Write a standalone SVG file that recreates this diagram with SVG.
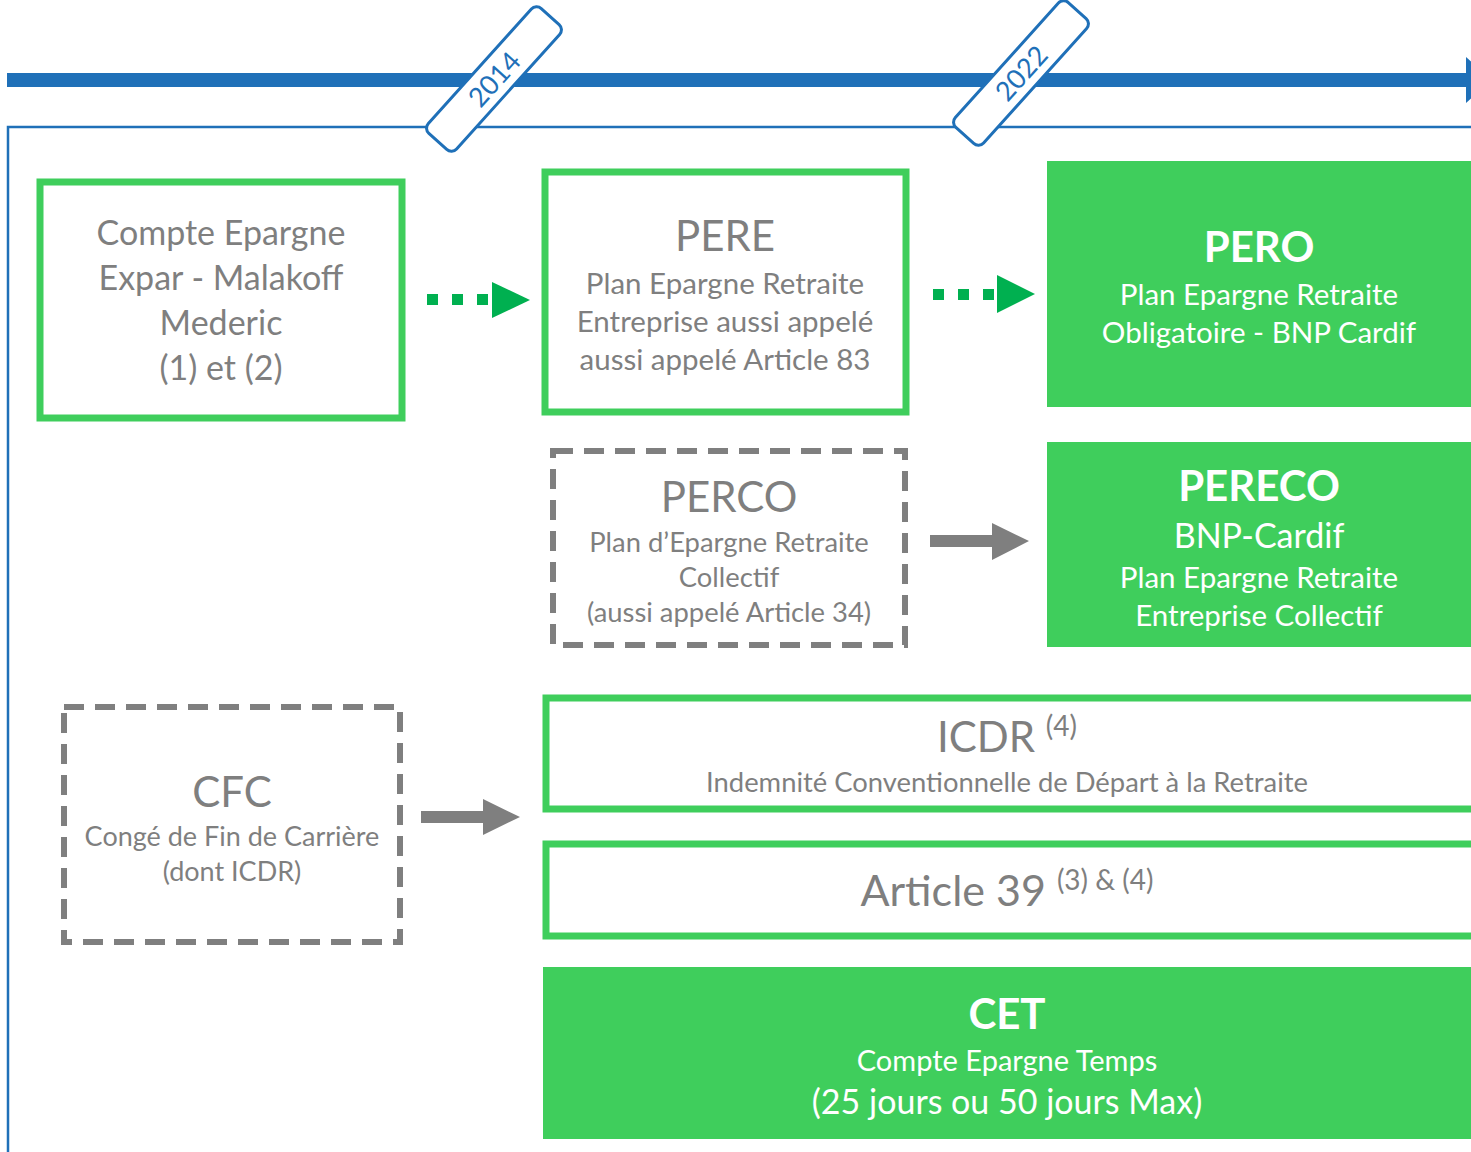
<svg xmlns="http://www.w3.org/2000/svg" width="1471" height="1152" viewBox="0 0 1471 1152">
<style>
text{font-family:Lato,"Open Sans","Liberation Sans",sans-serif;text-anchor:middle}
.g{fill:#7F7F7F}
.w{fill:#FFFFFF}
.b{font-weight:bold}
.box{fill:#FFFFFF;stroke:#3FCE5C;stroke-width:7}
.fill{fill:#3FCE5C}
.dash{fill:#FFFFFF;stroke:#7F7F7F;stroke-width:6;stroke-dasharray:20 11}
.tag{fill:#FFFFFF;stroke:#1F70B8;stroke-width:3}
.tagt{fill:#1F70B8;font-size:27px}
.dg{fill:#00B050}
.ga{fill:#7F7F7F}
</style>
<g id="timeline">
<rect x="7" y="73" width="1462" height="14" fill="#1F70B8"/>
<polygon points="1466,57 1492,80 1466,103" fill="#1F70B8"/>
<path d="M8,1152 V127 H1471" fill="none" stroke="#1F70B8" stroke-width="2.5"/>
</g>
<g id="tag2014" transform="translate(494,79) rotate(-48)">
<rect x="-84" y="-19" width="168" height="38" rx="7" class="tag"/>
<text x="0" y="10" class="tagt">2014</text>
</g>
<g id="tag2022" transform="translate(1021,73) rotate(-48)">
<rect x="-84" y="-19" width="168" height="38" rx="7" class="tag"/>
<text x="0" y="10" class="tagt">2022</text>
</g>
<g id="connectors">
<rect x="427" y="294" width="11" height="11" class="dg"/>
<rect x="452" y="294" width="11" height="11" class="dg"/>
<rect x="477" y="294" width="11" height="11" class="dg"/>
<polygon points="492,282 530,300 492,318" class="dg"/>
<rect x="933" y="289" width="11" height="11" class="dg"/>
<rect x="958" y="289" width="11" height="11" class="dg"/>
<rect x="983" y="289" width="11" height="11" class="dg"/>
<polygon points="997,275 1035,294 997,313" class="dg"/>
<polygon points="930,535 992,535 992,523 1029,541 992,560 992,547 930,547" class="ga"/>
<polygon points="421,811 483,811 483,799 520,817 483,835 483,823 421,823" class="ga"/>
</g>
<g id="compte">
<rect x="40" y="182" width="362" height="236" class="box"/>
<text class="g" font-size="34"><tspan x="221" y="245">Compte Epargne</tspan><tspan x="221" y="290">Expar - Malakoff</tspan><tspan x="221" y="335">Mederic</tspan><tspan x="221" y="380">(1) et (2)</tspan></text>
</g>
<g id="pere">
<rect x="545" y="172" width="361" height="240" class="box"/>
<text class="g" x="725" y="251" font-size="42">PERE</text>
<text class="g" font-size="29.5"><tspan x="725" y="294">Plan Epargne Retraite</tspan><tspan x="725" y="332">Entreprise aussi appelé</tspan><tspan x="725" y="370">aussi appelé Article 83</tspan></text>
</g>
<g id="pero">
<rect x="1047" y="161" width="424" height="246" class="fill"/>
<text class="w b" x="1259" y="262" font-size="42">PERO</text>
<text class="w" font-size="29.5"><tspan x="1259" y="305">Plan Epargne Retraite</tspan><tspan x="1259" y="343">Obligatoire - BNP Cardif</tspan></text>
</g>
<g id="perco">
<rect x="553" y="451" width="352" height="194" class="dash"/>
<text class="g" x="729" y="512" font-size="42">PERCO</text>
<text class="g" font-size="27.4"><tspan x="729" y="552">Plan d’Epargne Retraite</tspan><tspan x="729" y="587">Collectif</tspan><tspan x="729" y="622">(aussi appelé Article 34)</tspan></text>
</g>
<g id="pereco">
<rect x="1047" y="442" width="424" height="205" class="fill"/>
<text class="w b" x="1259" y="501" font-size="42">PERECO</text>
<text class="w" x="1259" y="548" font-size="34">BNP-Cardif</text>
<text class="w" font-size="29.5"><tspan x="1259" y="588">Plan Epargne Retraite</tspan><tspan x="1259" y="626">Entreprise Collectif</tspan></text>
</g>
<g id="cfc">
<rect x="64" y="707" width="336" height="235" class="dash"/>
<text class="g" x="232" y="807" font-size="42">CFC</text>
<text class="g" font-size="27"><tspan x="232" y="846">Congé de Fin de Carrière</tspan><tspan x="232" y="881">(dont ICDR)</tspan></text>
</g>
<g id="icdr">
<rect x="546" y="698" width="929" height="111" class="box"/>
<text class="g" x="1007" y="752" font-size="42">ICDR <tspan font-size="28" dy="-16">(4)</tspan></text>
<text class="g" x="1007" y="792" font-size="27.4">Indemnité Conventionnelle de Départ à la Retraite</text>
</g>
<g id="article39">
<rect x="546" y="844" width="929" height="92" class="box"/>
<text class="g" x="1007" y="906" font-size="43">Article 39 <tspan font-size="28" dy="-16">(3) &amp; (4)</tspan></text>
</g>
<g id="cet">
<rect x="543" y="967" width="928" height="172" class="fill"/>
<text class="w b" x="1007" y="1029" font-size="42">CET</text>
<text class="w" x="1007" y="1071" font-size="29">Compte Epargne Temps</text>
<text class="w" x="1007" y="1114" font-size="34">(25 jours ou 50 jours Max)</text>
</g>
</svg>
